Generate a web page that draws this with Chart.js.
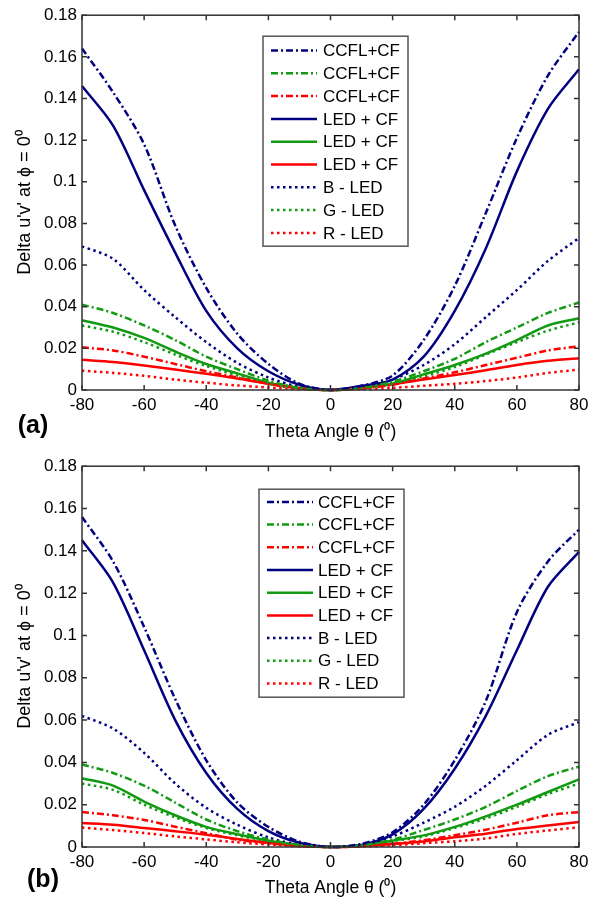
<!DOCTYPE html>
<html lang="en">
<head>
<meta charset="UTF-8">
<title>Delta u'v' versus theta angle</title>
<script src="https://cdn.jsdelivr.net/npm/chart.js"></script>
<style>
  body { margin: 0; background: #fff; }
  .panel { position: absolute; left: 0; width: 598px; }
</style>
</head>
<body>
<div class="panel" style="top:0;height:451px"><canvas id="chartA" width="598" height="451"></canvas></div>
<div class="panel" style="top:451px;height:452px"><canvas id="chartB" width="598" height="452"></canvas></div>
<script>
// theta angle (deg)
const theta = [-80, -70, -60, -50, -40, -30, -20, -10, 0, 10, 20, 30, 40, 50, 60, 70, 80];

// (a)
const ccflBlueA  = [0.164, 0.143, 0.118, 0.079, 0.049, 0.027, 0.0125, 0.003, 0, 0.002, 0.007, 0.024, 0.050, 0.085, 0.121, 0.151, 0.172];
const ccflGreenA = [0.041, 0.037, 0.031, 0.024, 0.016, 0.010, 0.0045, 0.001, 0, 0.001, 0.004, 0.009, 0.015, 0.023, 0.030, 0.037, 0.042];
const ccflRedA   = [0.0205, 0.019, 0.016, 0.0125, 0.009, 0.006, 0.003, 0.0008, 0, 0.0008, 0.0025, 0.0055, 0.0085, 0.012, 0.0155, 0.019, 0.021];
const ledBlueA   = [0.146, 0.127, 0.096, 0.066, 0.038, 0.020, 0.009, 0.0025, 0, 0.002, 0.005, 0.016, 0.038, 0.068, 0.105, 0.135, 0.154];
const ledGreenA  = [0.0335, 0.030, 0.025, 0.0185, 0.0125, 0.008, 0.0035, 0.001, 0, 0.001, 0.003, 0.0075, 0.012, 0.0175, 0.024, 0.031, 0.0345];
const ledRedA    = [0.0145, 0.0135, 0.0118, 0.0098, 0.0078, 0.0055, 0.003, 0.001, 0, 0.001, 0.0028, 0.005, 0.0072, 0.0095, 0.012, 0.014, 0.0152];
const bLedA      = [0.069, 0.063, 0.048, 0.035, 0.023, 0.013, 0.006, 0.0015, 0, 0.001, 0.005, 0.012, 0.022, 0.035, 0.048, 0.062, 0.073];
const gLedA      = [0.031, 0.028, 0.023, 0.017, 0.0115, 0.007, 0.003, 0.0008, 0, 0.0008, 0.003, 0.0065, 0.011, 0.017, 0.023, 0.0285, 0.0325];
const rLedA      = [0.0093, 0.0082, 0.0068, 0.005, 0.0035, 0.0022, 0.0012, 0.0004, 0, 0.0003, 0.001, 0.002, 0.003, 0.0043, 0.006, 0.0082, 0.0098];

// (b)
const ccflBlueB  = [0.156, 0.135, 0.104, 0.070, 0.041, 0.021, 0.0095, 0.0025, 0, 0.0015, 0.007, 0.020, 0.041, 0.069, 0.111, 0.135, 0.150];
const ccflGreenB = [0.039, 0.035, 0.029, 0.021, 0.013, 0.0075, 0.0035, 0.001, 0, 0.0008, 0.0035, 0.008, 0.013, 0.019, 0.0265, 0.0335, 0.038];
const ccflRedB   = [0.0165, 0.015, 0.0128, 0.0096, 0.0065, 0.0035, 0.0018, 0.0005, 0, 0.0004, 0.0015, 0.0032, 0.0056, 0.0082, 0.0115, 0.015, 0.0165];
const ledBlueB   = [0.145, 0.125, 0.093, 0.060, 0.035, 0.018, 0.0075, 0.002, 0, 0.001, 0.006, 0.018, 0.037, 0.062, 0.093, 0.123, 0.1395];
const ledGreenB  = [0.0325, 0.029, 0.0215, 0.015, 0.0095, 0.006, 0.003, 0.0008, 0, 0.0008, 0.003, 0.0055, 0.0095, 0.0145, 0.020, 0.026, 0.032];
const ledRedB    = [0.0113, 0.0105, 0.009, 0.0075, 0.0058, 0.0038, 0.002, 0.0005, 0, 0.0004, 0.0015, 0.0026, 0.0046, 0.0063, 0.0085, 0.0102, 0.0118];
const bLedB      = [0.062, 0.056, 0.0445, 0.030, 0.0185, 0.0105, 0.0045, 0.001, 0, 0.001, 0.005, 0.0115, 0.019, 0.029, 0.041, 0.053, 0.059];
const gLedB      = [0.030, 0.027, 0.020, 0.014, 0.009, 0.0055, 0.0028, 0.0007, 0, 0.0007, 0.0028, 0.005, 0.009, 0.0135, 0.019, 0.025, 0.030];
const rLedB      = [0.0092, 0.008, 0.0066, 0.005, 0.0036, 0.0022, 0.0012, 0.0003, 0, 0.0002, 0.0008, 0.0018, 0.0027, 0.004, 0.0062, 0.0078, 0.0093];

const seriesLabels = ['CCFL+CF', 'CCFL+CF', 'CCFL+CF', 'LED + CF', 'LED + CF', 'LED + CF', 'B - LED', 'G - LED', 'R - LED'];
const xTicks = [-80, -60, -40, -20, 0, 20, 40, 60, 80];
const yTicks = [0, 0.02, 0.04, 0.06, 0.08, 0.1, 0.12, 0.14, 0.16, 0.18];
const yTickLabels = ['0', '0.02', '0.04', '0.06', '0.08', '0.1', '0.12', '0.14', '0.16', '0.18'];

const navy = '#000080', green = '#139a13', red = '#ff0000';
const dashDot = [7, 3, 2, 3], dotted = [2.5, 3.5];
const colors = [navy, green, red, navy, green, red, navy, green, red];
const dashes = [dashDot, dashDot, dashDot, [], [], [], dotted, dotted, dotted];

const FONT = '"Liberation Sans", Arial, sans-serif';
Chart.defaults.font.family = FONT;
Chart.defaults.font.size = 17;
Chart.defaults.color = '#000';

// box + inward ticks, matlab style
const framePlugin = {
  id: 'frame',
  afterDatasetsDraw(chart) {
    const { ctx, chartArea: a, scales: { x, y } } = chart;
    ctx.save();
    ctx.strokeStyle = '#333';
    ctx.lineWidth = 1.5;
    ctx.setLineDash([]);
    ctx.strokeRect(a.left, a.top, a.right - a.left, a.bottom - a.top);
    ctx.beginPath();
    x.ticks.forEach(t => {
      const px = x.getPixelForValue(t.value);
      ctx.moveTo(px, a.bottom); ctx.lineTo(px, a.bottom - 5);
      ctx.moveTo(px, a.top); ctx.lineTo(px, a.top + 5);
    });
    y.ticks.forEach(t => {
      const py = y.getPixelForValue(t.value);
      ctx.moveTo(a.left, py); ctx.lineTo(a.left + 5, py);
      ctx.moveTo(a.right, py); ctx.lineTo(a.right - 5, py);
    });
    ctx.stroke();
    ctx.restore();
  }
};

const boxLegend = {
  id: 'boxLegend',
  afterDraw(chart, args, o) {
    const { ctx, chartArea: a } = chart;
    const left = a.left + o.dx, top = a.top + o.dy;
    ctx.save();
    ctx.fillStyle = '#fff';
    ctx.fillRect(left, top, o.w, o.h);
    ctx.strokeStyle = '#555';
    ctx.lineWidth = 1.5;
    ctx.strokeRect(left, top, o.w, o.h);
    ctx.font = '17px ' + FONT;
    ctx.textBaseline = 'middle';
    chart.data.datasets.forEach((ds, i) => {
      const yy = top + o.first + i * o.row;
      ctx.strokeStyle = ds.borderColor;
      ctx.lineWidth = ds.borderWidth;
      ctx.setLineDash(ds.borderDash);
      ctx.beginPath();
      ctx.moveTo(left + o.lineX, yy);
      ctx.lineTo(left + o.lineX + 46, yy);
      ctx.stroke();
      ctx.setLineDash([]);
      ctx.fillStyle = '#000';
      ctx.fillText(ds.label, left + o.textX, yy + 1);
    });
    // panel letter
    ctx.font = 'bold 25px ' + FONT;
    ctx.textAlign = 'center';
    ctx.fillText(o.tag, o.tagX, o.tagY);
    ctx.restore();
  }
};

function makeChart(id, series, cfg) {
  const datasets = series.map((vals, i) => ({
    label: seriesLabels[i],
    data: theta.map((t, k) => ({ x: t, y: vals[k] })),
    borderColor: colors[i],
    borderDash: dashes[i],
    borderWidth: 2.5,
    pointRadius: 0,
    tension: 0.3,
    fill: false,
    clip: false
  }));
  return new Chart(document.getElementById(id), {
    type: 'line',
    data: { datasets },
    options: {
      responsive: false,
      animation: false,
      layout: { padding: { top: cfg.padTop, right: 19, left: 0, bottom: 0 } },
      plugins: {
        legend: { display: false },
        tooltip: { enabled: false },
        boxLegend: cfg.legend
      },
      scales: {
        x: {
          type: 'linear', min: -80, max: 80,
          afterBuildTicks: s => { s.ticks = xTicks.map(v => ({ value: v })); },
          afterFit: s => { s.height = cfg.xHeight; },
          grid: { display: false, drawTicks: false },
          border: { display: false },
          ticks: { padding: 5, maxRotation: 0 },
          title: { display: true, text: 'Theta Angle θ (⁰)', font: { size: 17.5 }, padding: { top: 0, bottom: cfg.xTitlePad } }
        },
        y: {
          min: 0, max: 0.18,
          afterBuildTicks: s => { s.ticks = yTicks.map(v => ({ value: v })); },
          afterFit: s => { s.width = 82; },
          grid: { display: false, drawTicks: false },
          border: { display: false },
          ticks: { padding: 5, callback: (v, i) => yTickLabels[i] },
          title: { display: true, text: "Delta u'v' at ϕ = 0⁰", font: { size: 18 }, padding: { top: 14, bottom: 0 } }
        }
      }
    },
    plugins: [framePlugin, boxLegend]
  });
}

makeChart('chartA',
  [ccflBlueA, ccflGreenA, ccflRedA, ledBlueA, ledGreenA, ledRedA, bLedA, gLedA, rLedA],
  { padTop: 14, xHeight: 61, xTitlePad: 8.5,
    legend: { dx: 181, dy: 21, w: 145, h: 210, first: 14.3, row: 22.8, lineX: 8, textX: 60, tag: '(a)', tagX: 33, tagY: 426 } });

makeChart('chartB',
  [ccflBlueB, ccflGreenB, ccflRedB, ledBlueB, ledGreenB, ledRedB, bLedB, gLedB, rLedB],
  { padTop: 15, xHeight: 56, xTitlePad: 4.5,
    legend: { dx: 177, dy: 23, w: 145, h: 208, first: 12.7, row: 22.7, lineX: 8, textX: 59, tag: '(b)', tagX: 43, tagY: 429 } });
</script>
</body>
</html>
